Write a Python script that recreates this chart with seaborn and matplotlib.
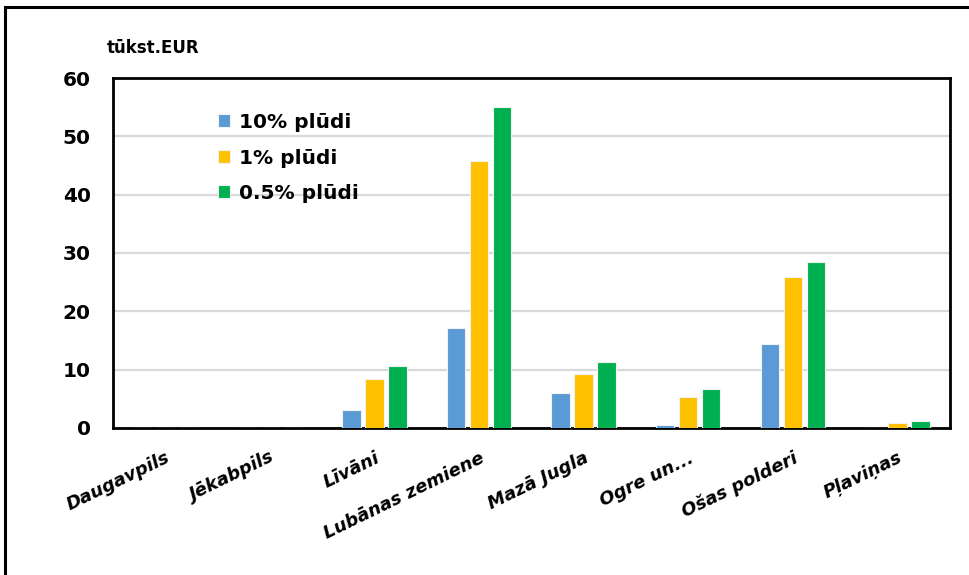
import pandas as pd
import matplotlib.pyplot as plt
import seaborn as sns
from matplotlib.patches import Rectangle

# DATA
categories = ["Daugavpils", "Jēkabpils", "Līvāni", "Lubānas zemiene",
              "Mazā Jugla", "Ogre un...", "Ošas polderi", "Pļaviņas"]
series_names = ["10% plūdi", "1% plūdi", "0.5% plūdi"]
flood_10 = [0, 0, 3.0, 17.1, 6.0, 0.5, 14.4, 0]
flood_1 = [0, 0, 8.4, 45.8, 9.3, 5.3, 25.9, 0.9]
flood_05 = [0, 0, 10.6, 55.0, 11.3, 6.7, 28.5, 1.2]
colors = ["#5B9BD5", "#FFC000", "#00B050"]

df = pd.DataFrame({
    "cat": categories * 3,
    "series": [series_names[0]] * 8 + [series_names[1]] * 8 + [series_names[2]] * 8,
    "value": flood_10 + flood_1 + flood_05,
})

sns.set_style("white")
plt.rcParams["font.family"] = ["DejaVu Sans"]
plt.rcParams["font.weight"] = "bold"
plt.rcParams["text.color"] = "black"
plt.rcParams["xtick.color"] = "black"
plt.rcParams["ytick.color"] = "black"

fig = plt.figure(figsize=(9.7, 5.75), dpi=100)
ax = fig.add_axes([0.1165, 0.2557, 0.8625, 0.6086])

sns.barplot(data=df, x="cat", y="value", hue="series", palette=colors,
            width=0.66, gap=0.2, edgecolor="#F2F2F2", linewidth=0.8,
            saturation=1, ax=ax, zorder=3)

ax.set_ylim(0, 60)
ax.set_yticks(range(0, 61, 10))
ax.yaxis.grid(True, color="#D9D9D9", linewidth=1.6, zorder=0)
ax.set_axisbelow(True)
ax.set_xlabel("")
ax.set_ylabel("")
for s in ax.spines.values():
    s.set_visible(True)
    s.set_color("black")
    s.set_linewidth(2)
ax.tick_params(axis="y", labelsize=14.5, pad=16, length=0, labelcolor="black")
ax.tick_params(axis="x", length=0, pad=15, labelcolor="black")
for lab in ax.get_yticklabels():
    lab.set_fontweight("bold")
ax.set_xticks(range(len(categories)))
ax.set_xticklabels(categories, rotation=26, ha="right", rotation_mode="anchor",
                   fontsize=13, fontweight="bold", fontstyle="italic")

ax.text(-0.007, 1.06, "tūkst.EUR", transform=ax.transAxes, fontsize=12,
        fontweight="bold", ha="left", va="bottom", color="black")

leg = ax.legend(loc="upper left", bbox_to_anchor=(0.125, 0.9), frameon=False,
                fontsize=14.5, handlelength=0.62, handleheight=0.62,
                handletextpad=0.45, labelspacing=0.82, borderpad=0,
                borderaxespad=0)
for t in leg.get_texts():
    t.set_fontweight("bold")
    t.set_color("black")

# outer chart frame
fig.patches.append(Rectangle((0.005, -0.05), 1.1, 1.038, transform=fig.transFigure,
                             fill=False, edgecolor="black", linewidth=2.2))

fig.savefig("out.png", dpi=100)
